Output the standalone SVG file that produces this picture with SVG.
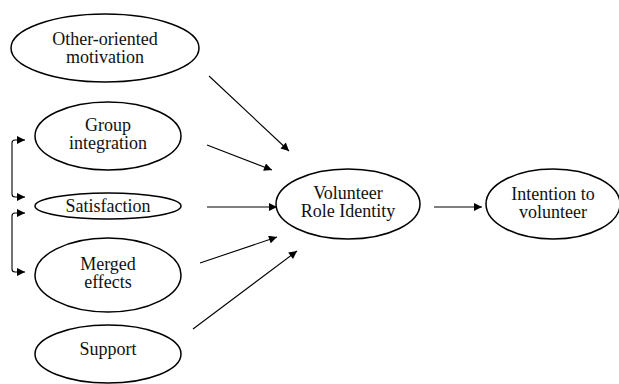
<svg xmlns="http://www.w3.org/2000/svg" width="619" height="384" viewBox="0 0 619 384">
<defs>
<marker id="ah" viewBox="0 0 10 10" refX="10" refY="5" markerWidth="10" markerHeight="8" markerUnits="userSpaceOnUse" orient="auto-start-reverse">
<path d="M0,0 L10,5 L0,10 Z" fill="#000"/>
</marker>
<style>
.n ellipse{fill:#fff;stroke:#000;stroke-width:1.5}
.n text{font-family:"Liberation Serif","Times New Roman",serif;font-size:18px;text-anchor:middle;fill:#111}
.c line,.c path{stroke:#000;stroke-width:1.1;fill:none;marker-end:url(#ah)}
.c path.b{marker-start:url(#ah)}
</style>
</defs>
<rect width="619" height="384" fill="#fff"/>
<g id="other" class="n"><ellipse cx="105" cy="48" rx="94" ry="34"/><text x="105" y="45">Other-oriented</text><text x="105" y="63">motivation</text></g>
<g id="group" class="n"><ellipse cx="108" cy="136" rx="73" ry="34"/><text x="108" y="131">Group</text><text x="108" y="149">integration</text></g>
<g id="satisfaction" class="n"><ellipse cx="108" cy="206" rx="73" ry="13"/><text x="108" y="212">Satisfaction</text></g>
<g id="merged" class="n"><ellipse cx="108" cy="275" rx="73" ry="37"/><text x="108" y="270">Merged</text><text x="108" y="288">effects</text></g>
<g id="support" class="n"><ellipse cx="108" cy="354" rx="73" ry="29"/><text x="108" y="355">Support</text></g>
<g id="vri" class="n"><ellipse cx="348" cy="204" rx="72" ry="35"/><text x="348" y="199">Volunteer</text><text x="348" y="217">Role Identity</text></g>
<g id="intention" class="n"><ellipse cx="553" cy="204" rx="67" ry="35"/><text x="553" y="200">Intention to</text><text x="553" y="218">volunteer</text></g>
<g id="connectors" class="c">
<line x1="209" y1="76" x2="289" y2="151"/>
<line x1="207" y1="145" x2="272" y2="170"/>
<line x1="207" y1="207" x2="277" y2="207"/>
<line x1="200" y1="263" x2="277" y2="237"/>
<line x1="193" y1="329" x2="297" y2="251"/>
<line x1="434" y1="207" x2="482" y2="207"/>
<path class="b" d="M25,140 H15 Q12,140 12,143 V194 Q12,197 15,197 H25"/>
<path class="b" d="M25,213 H15 Q12,213 12,216 V269 Q12,272 15,272 H25"/>
</g>
</svg>
